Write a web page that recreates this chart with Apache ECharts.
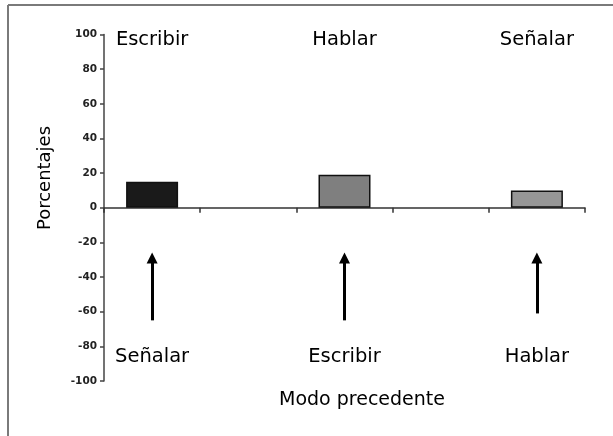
<!DOCTYPE html>
<html>
<head>
<meta charset="utf-8">
<script src="https://cdn.jsdelivr.net/npm/echarts@6/dist/echarts.min.js"></script>
<style>
  html, body { margin: 0; padding: 0; background: #fff; }
  #container { width: 613px; height: 436px; }
</style>
</head>
<body>
<div id="container"></div>
<script>
  // 5 slots on the x axis, bars sit in slots 0, 2 and 4
  const slots = ['s0', 's1', 's2', 's3', 's4'];
  const barSlots = [0, 2, 4];
  const currentModes = ['Escribir', 'Hablar', 'Señalar'];
  const precedingModes = ['Señalar', 'Escribir', 'Hablar'];
  const percentages = [15, 19, 10];
  const arrowFrom = [-65, -65, -61];
  const arrowTo = [-29, -29, -29];
  const yTicks = [-100, -80, -60, -40, -20, 0, 20, 40, 60, 80, 100];
  const topLabelValue = 97;
  const bottomLabelValue = -86;

  const barColors = ['#1a1a1a', '#7f7f7f', '#969696'];

  let dom = document.getElementById('container');
  let myChart = echarts.init(dom);

  let barData = slots.map(() => '-');
  barSlots.forEach((s, i) => {
    barData[s] = {value: percentages[i], itemStyle: {color: barColors[i]}};
  });

  let topLabels = barSlots.map((s, i) => ({value: [s, topLabelValue], name: currentModes[i]}));
  let bottomLabels = barSlots.map((s, i) => ({value: [s, bottomLabelValue], name: precedingModes[i]}));
  let arrows = barSlots.map((s, i) => [{coord: [s, arrowFrom[i]]}, {coord: [s, arrowTo[i]]}]);

  const textFont = '"DejaVu Sans", Verdana, sans-serif';
  let modeLabel = {
    show: true,
    position: 'inside',
    formatter: p => p.name,
    color: '#000',
    fontFamily: textFont,
    fontSize: 19.5
  };

  let option = {
    animation: false,
    backgroundColor: '#fff',
    grid: {left: 104, right: 28, top: 34.5, bottom: 55},
    xAxis: {
      type: 'category',
      data: slots,
      axisLine: {onZero: true, lineStyle: {color: '#333', width: 1.5}},
      axisTick: {show: true, length: 5, lineStyle: {color: '#333', width: 1.5}},
      axisLabel: {show: false},
      splitLine: {show: false}
    },
    yAxis: {
      type: 'value',
      min: yTicks[0],
      max: yTicks[yTicks.length - 1],
      interval: 20,
      axisLine: {show: true, lineStyle: {color: '#444', width: 1.5}},
      axisTick: {show: true, length: 4, lineStyle: {color: '#444', width: 1.5}},
      axisLabel: {
        margin: 7,
        color: '#222',
        fontFamily: '"DejaVu Sans", Arial, sans-serif',
        fontWeight: 'bold',
        fontSize: 10.5
      },
      splitLine: {show: false}
    },
    graphic: [
      {type: 'line', shape: {x1: 8, y1: 5, x2: 613, y2: 5}, style: {stroke: '#7a7a7a', lineWidth: 2}},
      {type: 'line', shape: {x1: 8, y1: 5, x2: 8, y2: 436}, style: {stroke: '#7a7a7a', lineWidth: 2}},
      {
        type: 'text', x: 45, y: 178, rotation: Math.PI / 2,
        style: {text: 'Porcentajes', fontFamily: textFont, fontSize: 18, fill: '#000', align: 'center', verticalAlign: 'middle'}
      },
      {
        type: 'text', x: 362, y: 400,
        style: {text: 'Modo precedente', fontFamily: textFont, fontSize: 19, fill: '#000', align: 'center', verticalAlign: 'middle'}
      }
    ],
    series: [
      {
        type: 'bar',
        data: barData,
        barWidth: 52,
        itemStyle: {borderColor: '#111', borderWidth: 1.5},
        markLine: {
          silent: true,
          symbol: ['none', 'triangle'],
          symbolSize: 11,
          label: {show: false},
          lineStyle: {color: '#000', width: 3, type: 'solid'},
          data: arrows
        }
      },
      {
        type: 'scatter',
        symbolSize: 0,
        itemStyle: {opacity: 1},
        data: topLabels,
        label: modeLabel
      },
      {
        type: 'scatter',
        symbolSize: 0,
        itemStyle: {opacity: 1},
        data: bottomLabels,
        label: modeLabel
      }
    ]
  };

  myChart.setOption(option);
</script>
</body>
</html>
